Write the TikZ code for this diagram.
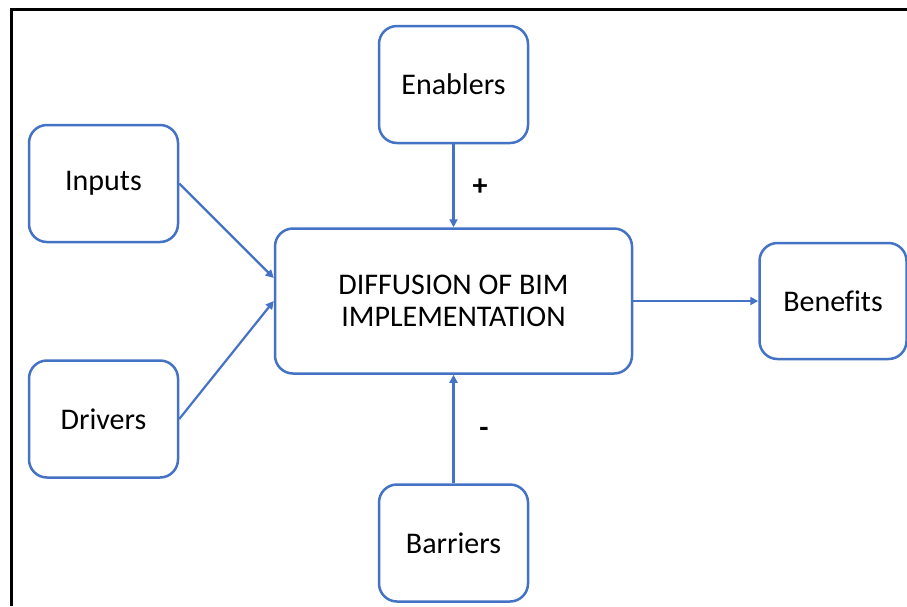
\documentclass[tikz,border=0pt]{standalone}
\usepackage{fontspec}
\setmainfont{Carlito}[Ligatures=NoCommon]
\usetikzlibrary{arrows.meta,calc}
\definecolor{boxblue}{HTML}{4472C4}
\begin{document}
\begin{tikzpicture}[x=1pt,y=-1pt,
  block/.style={draw=boxblue, line width=2.5pt, rounded corners=18pt, fill=white,
    minimum width=149pt, minimum height=117pt, inner sep=0pt, align=center,
    font=\fontsize{30}{32}\selectfont},
  link/.style={draw=boxblue, line width=2.2pt,
    -{Triangle[length=8pt,width=8pt]}},
  sign/.style={font=\fontsize{30}{32}\selectfont\bfseries}]
  % canvas and frame
  \useasboundingbox (0,0) rectangle (907,606);
  \fill[white] (0,0) rectangle (907,606);
  \draw[black, line width=2.2pt] (11.5,606) -- (11.5,9.5) -- (907,9.5);

  % boxes
  \node[block] (enablers) at (453.5,84.5) {Enablers};
  \node[block] (inputs)   at (103.5,183.5) {Inputs};
  \node[block] (drivers)  at (103.5,419) {Drivers};
  \node[block, minimum width=357pt, minimum height=145pt] (core) at (453.5,301)
    {DIFFUSION OF BIM\\IMPLEMENTATION};
  \node[block, minimum width=147pt, minimum height=116pt] (benefits) at (833,301) {Benefits};
  \node[block] (barriers) at (453.5,543) {Barriers};

  % connectors
  \coordinate (inTip) at ($(core.west)+(0,-23)$);
  \draw[link] (inputs.east) -- (inTip);
  \draw[link] (drivers.east) -- (core.west);
  \draw[link] (enablers.south) -- (core.north);
  \draw[link] (barriers.north) -- (core.south);
  \draw[link] (core.east) -- (benefits.west);

  % signs
  \node[sign] (plus)  at (480,187) {+};
  \node[sign] (minus) at (484,432) {-};
\end{tikzpicture}
\end{document}
